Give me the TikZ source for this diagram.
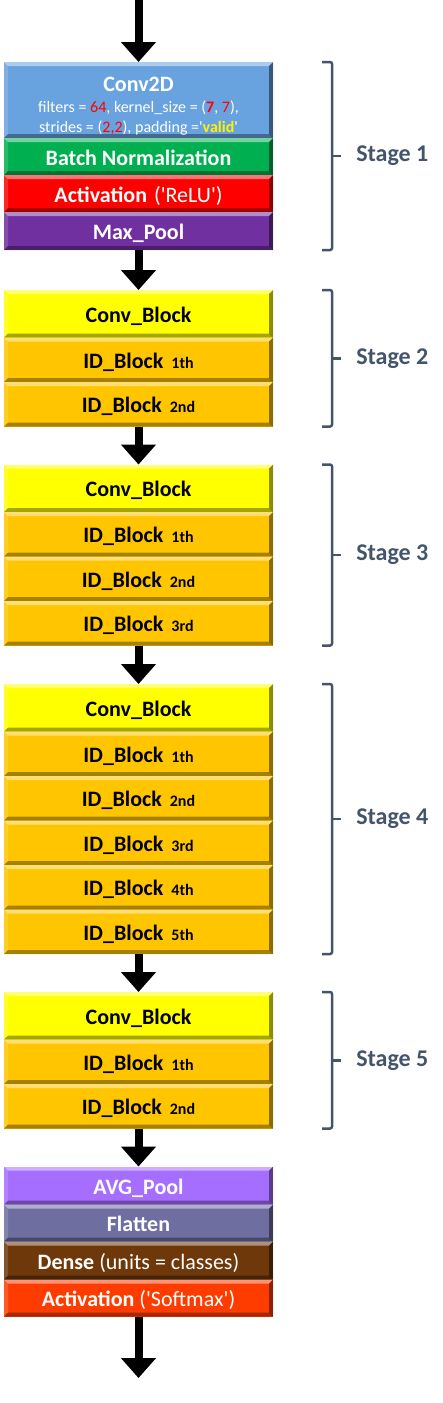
\documentclass[tikz,border=0pt]{standalone}
\usepackage{fontspec}
\setmainfont{Carlito}
\usepackage{xcolor}
\usetikzlibrary{positioning,arrows.meta,calc}

\definecolor{convblue}{RGB}{104,163,224}
\definecolor{bngreen}{RGB}{0,176,80}
\definecolor{relured}{RGB}{255,0,0}
\definecolor{poolpurple}{RGB}{112,48,160}
\definecolor{cbyellow}{RGB}{255,255,0}
\definecolor{idgold}{RGB}{255,198,0}
\definecolor{avgviolet}{RGB}{166,110,255}
\definecolor{flatslate}{RGB}{110,110,160}
\definecolor{densebrown}{RGB}{110,56,10}
\definecolor{softorange}{RGB}{255,60,0}
\definecolor{stagegray}{RGB}{68,84,106}

\newcommand{\rednum}[1]{\textcolor{red}{#1}}
\newcommand{\blkidx}[1]{\hspace{8pt}{\fontsize{16}{16}\selectfont #1}}

\begin{document}
\begin{tikzpicture}[
  x=1pt, y=1pt,
  blk/.style={minimum width=269pt, inner sep=0pt, outer sep=0pt, align=center,
              text height=18pt, text depth=1pt,
              font=\fontsize{22}{25}\selectfont\bfseries,
              path picture={
                \fill[white, opacity=.45] (path picture bounding box.north west) -- (path picture bounding box.north east)
                  -- ([shift={(-4,-4)}]path picture bounding box.north east) -- ([shift={(4,-4)}]path picture bounding box.north west) -- cycle;
                \fill[white, opacity=.15] (path picture bounding box.north west) -- (path picture bounding box.south west)
                  -- ([shift={(4,4)}]path picture bounding box.south west) -- ([shift={(4,-4)}]path picture bounding box.north west) -- cycle;
                \fill[black, opacity=.35] (path picture bounding box.south west) -- (path picture bounding box.south east)
                  -- ([shift={(-4,4)}]path picture bounding box.south east) -- ([shift={(4,4)}]path picture bounding box.south west) -- cycle;
                \fill[black, opacity=.45] (path picture bounding box.north east) -- (path picture bounding box.south east)
                  -- ([shift={(-4,4)}]path picture bounding box.south east) -- ([shift={(-4,-4)}]path picture bounding box.north east) -- cycle;
              }},
  conv/.style={blk, fill=convblue, text=white, minimum height=76pt, text height=, text depth=,
               font=\fontsize{16}{20}\selectfont},
  bnorm/.style={blk, fill=bngreen, text=white, minimum height=37pt},
  relu/.style={blk, fill=relured, text=white, minimum height=37pt},
  maxpool/.style={blk, fill=poolpurple, text=white, minimum height=38pt},
  cblock/.style={blk, fill=cbyellow, text=black, minimum height=47.5pt},
  idblock/.style={blk, fill=idgold, text=black, minimum height=44.5pt},
  avgpool/.style={blk, fill=avgviolet, text=white, minimum height=38pt},
  flat/.style={blk, fill=flatslate, text=white, minimum height=37pt},
  dense/.style={blk, fill=densebrown, text=white, minimum height=38pt},
  soft/.style={blk, fill=softorange, text=white, minimum height=37pt},
  flow/.style={-{Triangle[width=34pt, length=20pt]}, line width=8pt},
  bracket/.style={draw=stagegray, line width=2.5pt, rounded corners=2pt},
  stagelbl/.style={anchor=west, inner sep=0pt, xshift=14pt, text=stagegray,
                   font=\fontsize{24}{26}\selectfont\bfseries},
]
\useasboundingbox (0,0) rectangle (442,-1403);

% stage 1
\node[conv, anchor=north] (conv) at (138.5,-62)
  {\raisebox{-8pt}[\height][\depth]{\begin{tabular}{@{}c@{}}
   {\bfseries\fontsize{22}{25}\selectfont Conv2D}\\[1pt]
   filters = \rednum{64}, kernel\_size = (\rednum{\bfseries 7}, \rednum{7}),\\
   strides = (\rednum{2,2}), padding =\textquotesingle\textcolor{yellow}{\bfseries valid}\textquotesingle
   \end{tabular}}};
\node[bnorm, below=0pt of conv] (bn) {Batch Normalization};
\node[relu, below=0pt of bn] (relu) {Activation\hspace{7pt}{\mdseries(\textquotesingle ReLU\textquotesingle)}};
\node[maxpool, below=0pt of relu] (pool) {Max\_Pool};

% stage 2
\node[cblock, below=40pt of pool] (s2c) {Conv\_Block};
\node[idblock, below=0pt of s2c] (s2i1) {ID\_Block\blkidx{1th}};
\node[idblock, below=0pt of s2i1] (s2i2) {ID\_Block\blkidx{2nd}};

% stage 3
\node[cblock, below=38pt of s2i2] (s3c) {Conv\_Block};
\node[idblock, below=0pt of s3c] (s3i1) {ID\_Block\blkidx{1th}};
\node[idblock, below=0pt of s3i1] (s3i2) {ID\_Block\blkidx{2nd}};
\node[idblock, below=0pt of s3i2] (s3i3) {ID\_Block\blkidx{3rd}};

% stage 4
\node[cblock, below=38.5pt of s3i3] (s4c) {Conv\_Block};
\node[idblock, below=0pt of s4c] (s4i1) {ID\_Block\blkidx{1th}};
\node[idblock, below=0pt of s4i1] (s4i2) {ID\_Block\blkidx{2nd}};
\node[idblock, below=0pt of s4i2] (s4i3) {ID\_Block\blkidx{3rd}};
\node[idblock, below=0pt of s4i3] (s4i4) {ID\_Block\blkidx{4th}};
\node[idblock, below=0pt of s4i4] (s4i5) {ID\_Block\blkidx{5th}};

% stage 5
\node[cblock, below=38pt of s4i5] (s5c) {Conv\_Block};
\node[idblock, below=0pt of s5c] (s5i1) {ID\_Block\blkidx{1th}};
\node[idblock, below=0pt of s5i1] (s5i2) {ID\_Block\blkidx{2nd}};

% head
\node[avgpool, below=38pt of s5i2] (avg) {AVG\_Pool};
\node[flat, below=0pt of avg] (flat) {Flatten};
\node[dense, below=0pt of flat] (dense) {Dense {\mdseries(units = classes)}};
\node[soft, below=0pt of dense] (soft) {Activation {\mdseries(\textquotesingle Softmax\textquotesingle)}};

\coordinate (in) at (138.5,0);
\coordinate (out) at (138.5,-1378);

\draw[flow] (in) -- (conv);
\draw[flow] (pool) -- (s2c);
\draw[flow] (s2i2) -- (s3c);
\draw[flow] (s3i3) -- (s4c);
\draw[flow] (s4i5) -- (s5c);
\draw[flow] (s5i2) -- (avg);
\draw[flow] (soft) -- (out);

% stage brackets
\draw[bracket] ($(conv.north east)+(49,0)$) -- ++(10,0) |- ($(pool.south east)+(49,0)$);
\draw[bracket] ($(conv.north east)!.5!(pool.south east)+(59,0)$) -- ++(9,0) node[stagelbl] (st1) {Stage 1};
\draw[bracket] ($(s2c.north east)+(49,0)$) -- ++(10,0) |- ($(s2i2.south east)+(49,0)$);
\draw[bracket] ($(s2c.north east)!.5!(s2i2.south east)+(59,0)$) -- ++(9,0) node[stagelbl] (st2) {Stage 2};
\draw[bracket] ($(s3c.north east)+(49,0)$) -- ++(10,0) |- ($(s3i3.south east)+(49,0)$);
\draw[bracket] ($(s3c.north east)!.5!(s3i3.south east)+(59,0)$) -- ++(9,0) node[stagelbl] (st3) {Stage 3};
\draw[bracket] ($(s4c.north east)+(49,0)$) -- ++(10,0) |- ($(s4i5.south east)+(49,0)$);
\draw[bracket] ($(s4c.north east)!.5!(s4i5.south east)+(59,0)$) -- ++(9,0) node[stagelbl] (st4) {Stage 4};
\draw[bracket] ($(s5c.north east)+(49,0)$) -- ++(10,0) |- ($(s5i2.south east)+(49,0)$);
\draw[bracket] ($(s5c.north east)!.5!(s5i2.south east)+(59,0)$) -- ++(9,0) node[stagelbl] (st5) {Stage 5};
\end{tikzpicture}
\end{document}
